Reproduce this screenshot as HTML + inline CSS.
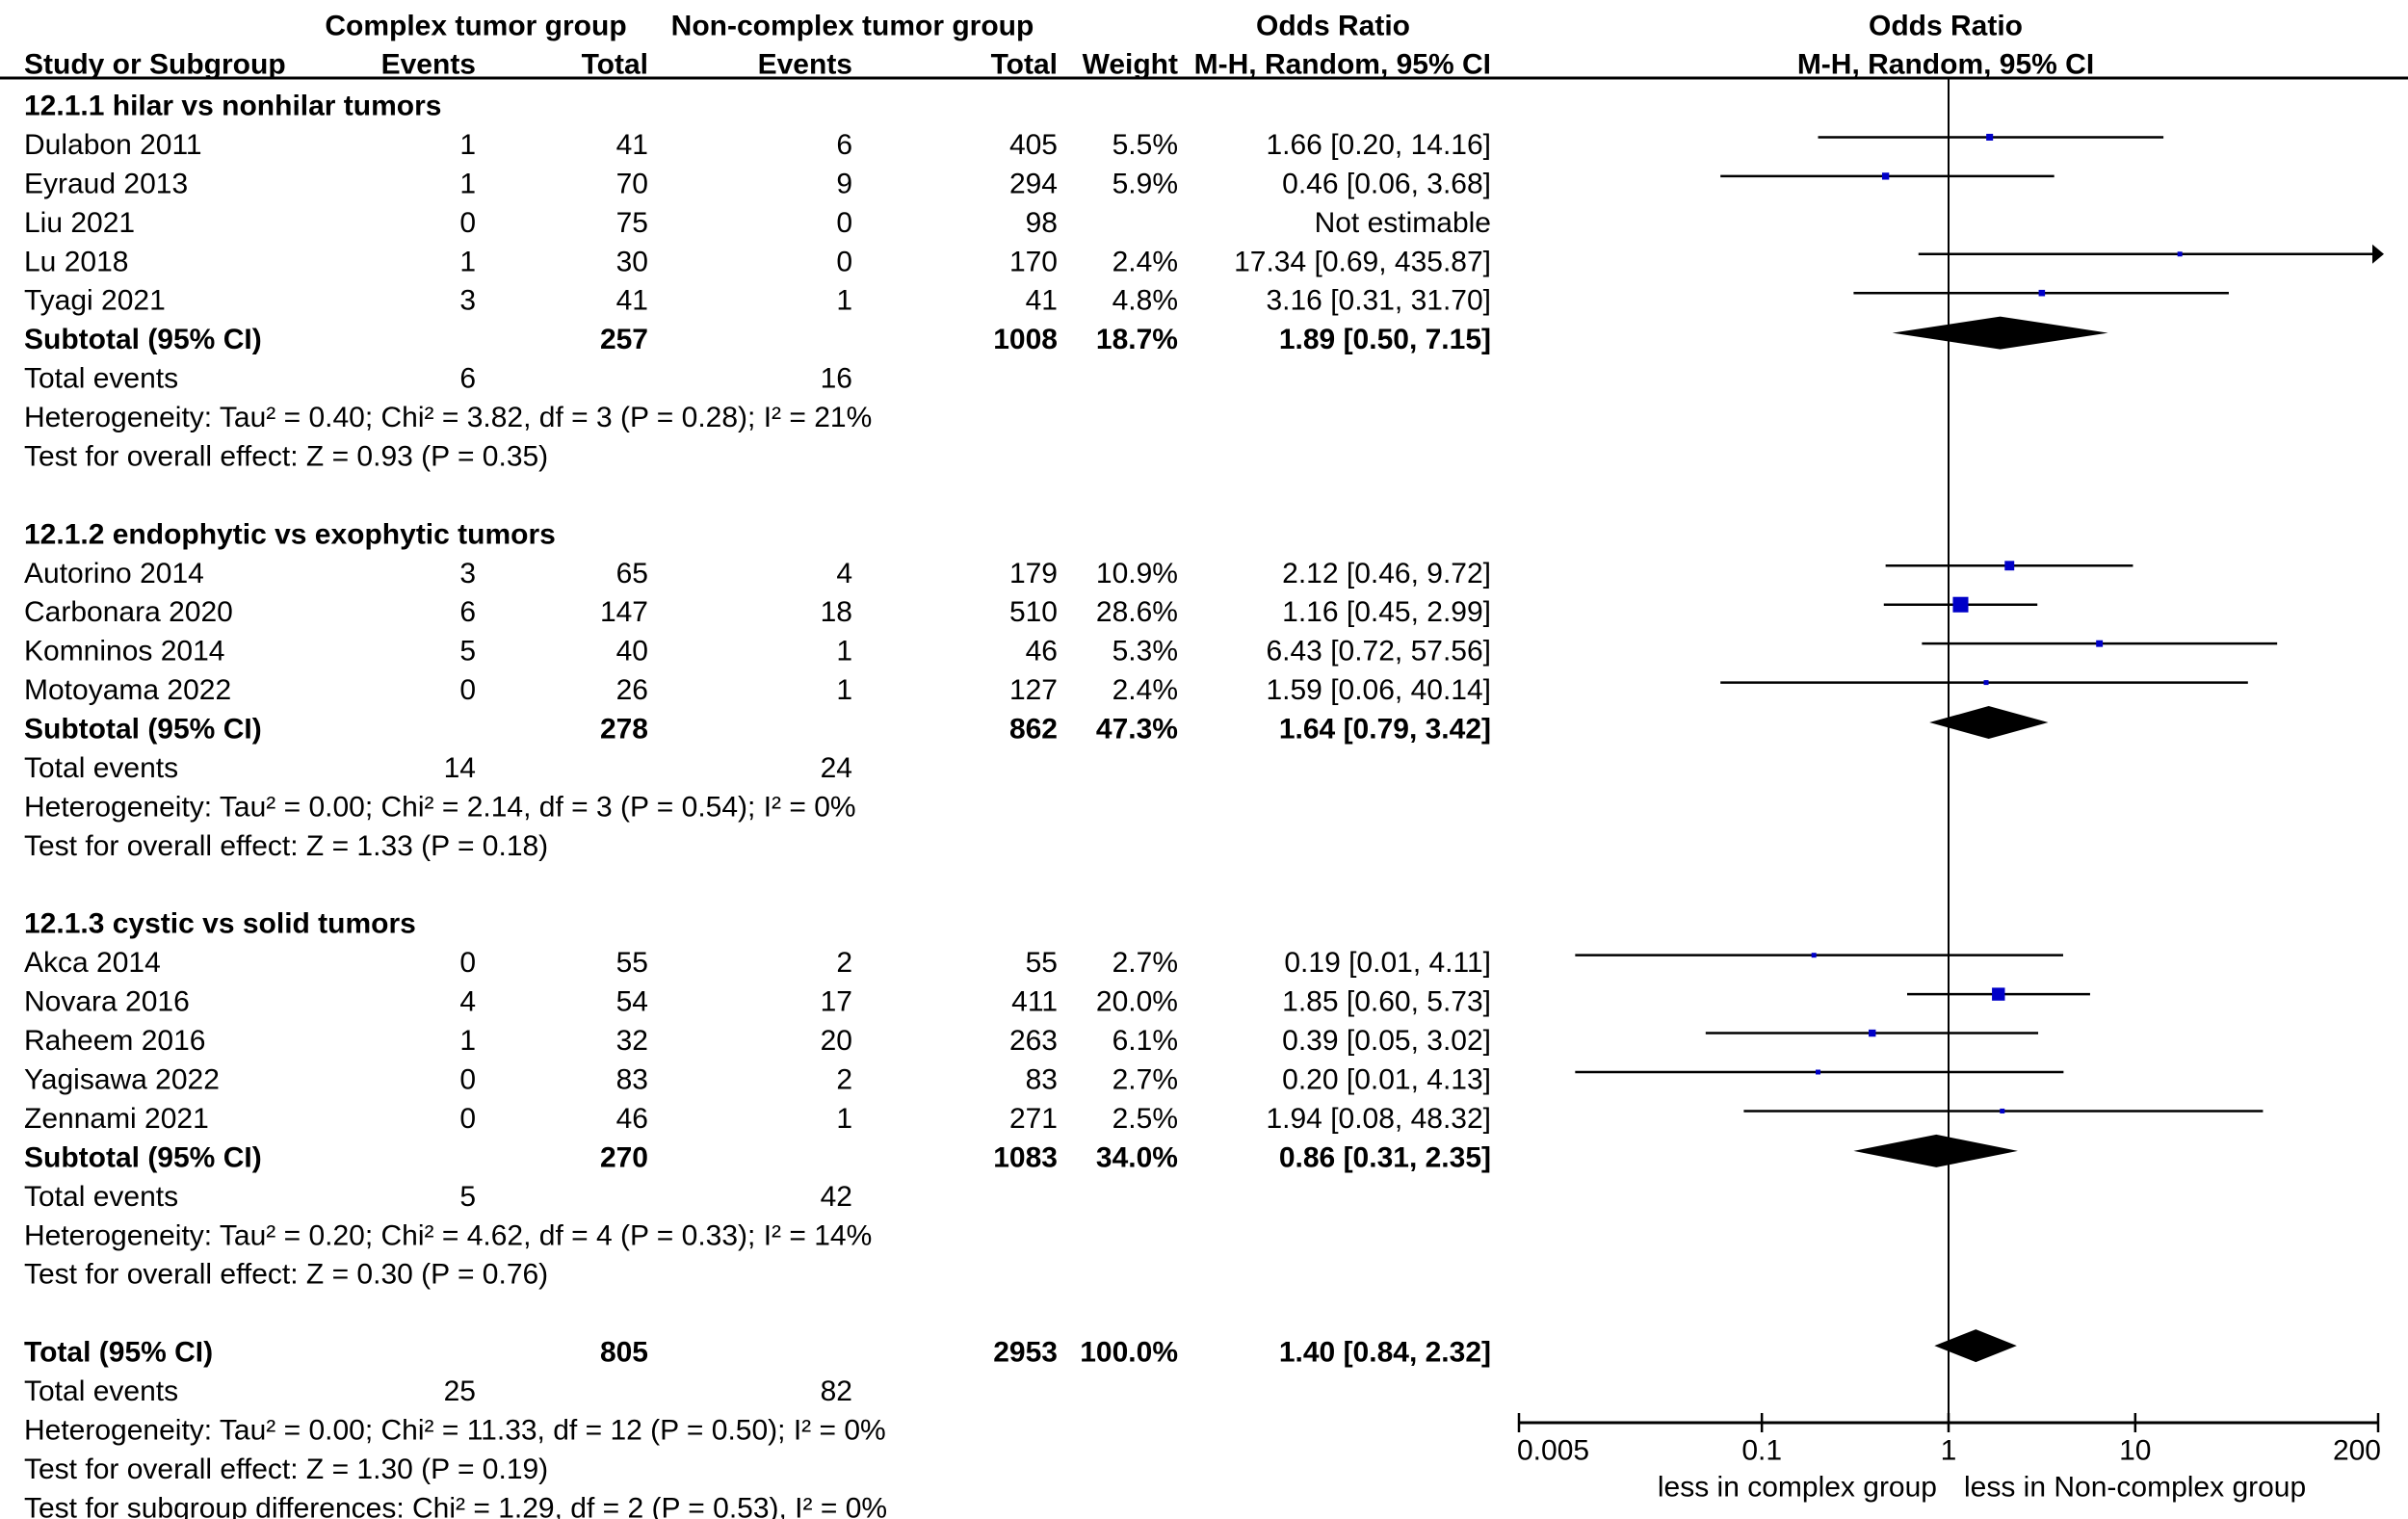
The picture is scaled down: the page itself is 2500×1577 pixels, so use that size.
<!DOCTYPE html>
<html><head><meta charset="utf-8"><style>
html,body{margin:0;padding:0;background:#fff;}
svg{display:block;}
text{font-family:"Liberation Sans",Arial,sans-serif;font-size:30px;fill:#000;}
.b{font-weight:bold;}
</style></head><body>
<svg id="chart" width="2500" height="1577" viewBox="0 0 2500 1577" xmlns="http://www.w3.org/2000/svg"></svg>
<script>
const studyNames=["Dulabon 2011","Eyraud 2013","Liu 2021","Lu 2018","Tyagi 2021","Autorino 2014","Carbonara 2020","Komninos 2014","Motoyama 2022","Akca 2014","Novara 2016","Raheem 2016","Yagisawa 2022","Zennami 2021"];
const studyGroup=[0,0,0,0,0,1,1,1,1,2,2,2,2,2];
const ev1=[1,1,0,1,3,3,6,5,0,0,4,1,0,0];
const tot1=[41,70,75,30,41,65,147,40,26,55,54,32,83,46];
const ev2=[6,9,0,0,1,4,18,1,1,2,17,20,2,1];
const tot2=[405,294,98,170,41,179,510,46,127,55,411,263,83,271];
const weights=[5.5,5.9,null,2.4,4.8,10.9,28.6,5.3,2.4,2.7,20.0,6.1,2.7,2.5];
const orVals=[1.66,0.46,null,17.34,3.16,2.12,1.16,6.43,1.59,0.19,1.85,0.39,0.20,1.94];
const loVals=[0.20,0.06,null,0.69,0.31,0.46,0.45,0.72,0.06,0.01,0.60,0.05,0.01,0.08];
const hiVals=[14.16,3.68,null,435.87,31.70,9.72,2.99,57.56,40.14,4.11,5.73,3.02,4.13,48.32];
const groupTitles=["12.1.1 hilar vs nonhilar tumors","12.1.2 endophytic vs exophytic tumors","12.1.3 cystic vs solid tumors"];
const groupTot1=[257,278,270];
const groupTot2=[1008,862,1083];
const groupWeight=["18.7%","47.3%","34.0%"];
const groupOR=[1.89,1.64,0.86];
const groupLo=[0.50,0.79,0.31];
const groupHi=[7.15,3.42,2.35];
const groupEv1=[6,14,5];
const groupEv2=[16,24,42];
const groupHet=["Heterogeneity: Tau² = 0.40; Chi² = 3.82, df = 3 (P = 0.28); I² = 21%","Heterogeneity: Tau² = 0.00; Chi² = 2.14, df = 3 (P = 0.54); I² = 0%","Heterogeneity: Tau² = 0.20; Chi² = 4.62, df = 4 (P = 0.33); I² = 14%"];
const groupTest=["Test for overall effect: Z = 0.93 (P = 0.35)","Test for overall effect: Z = 1.33 (P = 0.18)","Test for overall effect: Z = 0.30 (P = 0.76)"];
const totalOR=1.40, totalLo=0.84, totalHi=2.32;
const totalN1=805, totalN2=2953, totalEv1=25, totalEv2=82;
const totalHet="Heterogeneity: Tau² = 0.00; Chi² = 11.33, df = 12 (P = 0.50); I² = 0%";
const totalTest="Test for overall effect: Z = 1.30 (P = 0.19)";
const subgroupTest="Test for subgroup differences: Chi² = 1.29, df = 2 (P = 0.53), I² = 0%";
const tickVals=[0.005,0.1,1,10,200];
const tickLabels=["0.005","0.1","1","10","200"];
const xMin=0.005, xMax=200;

const svg=document.getElementById('chart');
const NS="http://www.w3.org/2000/svg";
const AX0=1577, AX1=2469, AXY=1477;
function xs(v){return AX0+(Math.log10(v)-Math.log10(xMin))/(Math.log10(xMax)-Math.log10(xMin))*(AX1-AX0);}
function rowY(i){return 110+i*40.44;}
function txt(x,y,s,anchor,bold,name){
  const t=document.createElementNS(NS,'text');
  t.setAttribute('x',x);t.setAttribute('y',y);
  t.setAttribute('dominant-baseline','central');
  t.setAttribute('text-anchor',anchor||'start');
  if(bold)t.setAttribute('class','b');
  t.textContent=s;
  
  
  svg.appendChild(t);return t;
}
function line(x1,y1,x2,y2,w,name){
  const l=document.createElementNS(NS,'line');
  l.setAttribute('x1',x1);l.setAttribute('y1',y1);l.setAttribute('x2',x2);l.setAttribute('y2',y2);
  l.setAttribute('stroke','#000');l.setAttribute('stroke-width',w);
  
  
  svg.appendChild(l);return l;
}
function fmt(v){return v.toFixed(2);}
function diamond(or,lo,hi,y,name){
  const p=document.createElementNS(NS,'polygon');
  p.setAttribute('points',`${xs(lo)},${y} ${xs(or)},${y-17} ${xs(hi)},${y} ${xs(or)},${y+17}`);
  p.setAttribute('fill','#000');
  
  
  svg.appendChild(p);
}
const C={study:25,ev1:494,tot1:673,ev2:885,tot2:1098,wt:1223,or:1548};
txt(494,27,"Complex tumor group","middle",true,"header-complex-group");
txt(885,27,"Non-complex tumor group","middle",true,"header-noncomplex-group");
txt(1384,27,"Odds Ratio","middle",true,"header-odds-ratio");
txt(2020,27,"Odds Ratio","middle",true,"header-plot-odds-ratio");
txt(C.study,67,"Study or Subgroup","start",true,"header-study");
txt(C.ev1,67,"Events","end",true,"header-events-1");
txt(C.tot1,67,"Total","end",true,"header-total-1");
txt(C.ev2,67,"Events","end",true,"header-events-2");
txt(C.tot2,67,"Total","end",true,"header-total-2");
txt(C.wt,67,"Weight","end",true,"header-weight");
txt(C.or,67,"M-H, Random, 95% CI","end",true,"header-method");
txt(2020,67,"M-H, Random, 95% CI","middle",true,"header-plot-method");
line(0,81,2500,81,3,"header-rule");
line(xs(1),82,xs(1),AXY,2,"null-effect-line");

let r=0;
for(let g=0;g<3;g++){
  txt(C.study,rowY(r),groupTitles[g],"start",true,"subgroup-title");r++;
  for(let i=0;i<studyNames.length;i++){
    if(studyGroup[i]!==g)continue;
    const y=rowY(r);
    txt(C.study,y,studyNames[i],"start",false,"study-name");
    txt(C.ev1,y,String(ev1[i]),"end",false,"events-complex");
    txt(C.tot1,y,String(tot1[i]),"end",false,"total-complex");
    txt(C.ev2,y,String(ev2[i]),"end",false,"events-noncomplex");
    txt(C.tot2,y,String(tot2[i]),"end",false,"total-noncomplex");
    if(orVals[i]===null){
      txt(C.or,y,"Not estimable","end",false,"odds-ratio-ci");
    } else {
      txt(C.wt,y,weights[i].toFixed(1)+"%","end",false,"weight");
      txt(C.or,y,`${fmt(orVals[i])} [${fmt(loVals[i])}, ${fmt(hiVals[i])}]`,"end",false,"odds-ratio-ci");
      const my=y-8;
      const hiClip=Math.min(hiVals[i],xMax), loClip=Math.max(loVals[i],xMin);
      line(xs(loClip),my,xs(hiClip),my,2.5,"ci-line");
      if(hiVals[i]>xMax){
        const a=document.createElementNS(NS,'polygon');
        a.setAttribute('points',`${AX1-6},${my-10} ${AX1+6},${my} ${AX1-6},${my+10}`);
        a.setAttribute('fill','#000');
        
        
        svg.appendChild(a);
      }
      const s=Math.max(5,Math.sqrt(weights[i])*3);
      const q=document.createElementNS(NS,'rect');
      q.setAttribute('x',xs(orVals[i])-s/2);q.setAttribute('y',my-s/2);
      q.setAttribute('width',s);q.setAttribute('height',s);q.setAttribute('fill','#0000c8');
      
      
      svg.appendChild(q);
    }
    r++;
  }
  let y=rowY(r);
  txt(C.study,y,"Subtotal (95% CI)","start",true,"subtotal-label");
  txt(C.tot1,y,String(groupTot1[g]),"end",true,"subtotal-total-1");
  txt(C.tot2,y,String(groupTot2[g]),"end",true,"subtotal-total-2");
  txt(C.wt,y,groupWeight[g],"end",true,"subtotal-weight");
  txt(C.or,y,`${fmt(groupOR[g])} [${fmt(groupLo[g])}, ${fmt(groupHi[g])}]`,"end",true,"subtotal-or");
  diamond(groupOR[g],groupLo[g],groupHi[g],y-7,"subtotal-diamond");
  r++;
  y=rowY(r);
  txt(C.study,y,"Total events","start",false,"total-events-label");
  txt(C.ev1,y,String(groupEv1[g]),"end",false,"total-events-1");
  txt(C.ev2,y,String(groupEv2[g]),"end",false,"total-events-2");
  r++;
  txt(C.study,rowY(r),groupHet[g],"start",false,"heterogeneity");r++;
  txt(C.study,rowY(r),groupTest[g],"start",false,"overall-effect-test");r++;
  r++;
}
let y=rowY(r);
txt(C.study,y,"Total (95% CI)","start",true,"total-label");
txt(C.tot1,y,String(totalN1),"end",true,"total-n-1");
txt(C.tot2,y,String(totalN2),"end",true,"total-n-2");
txt(C.wt,y,"100.0%","end",true,"total-weight");
txt(C.or,y,`${fmt(totalOR)} [${fmt(totalLo)}, ${fmt(totalHi)}]`,"end",true,"total-or");
diamond(totalOR,totalLo,totalHi,y-7,"total-diamond");
r++;y=rowY(r);
txt(C.study,y,"Total events","start",false,"total-events-label");
txt(C.ev1,y,String(totalEv1),"end",false,"total-events-1");
txt(C.ev2,y,String(totalEv2),"end",false,"total-events-2");
r++;txt(C.study,rowY(r),totalHet,"start",false,"total-heterogeneity");
r++;txt(C.study,rowY(r),totalTest,"start",false,"total-overall-effect");
r++;txt(C.study,rowY(r),subgroupTest,"start",false,"subgroup-differences-test");

line(AX0,AXY,AX1,AXY,3,"x-axis");
for(let i=0;i<tickVals.length;i++){
  const x=xs(tickVals[i]);
  line(x,AXY-10,x,AXY+10,2.5,"x-tick");
  const anc=i===0?"start":(i===tickVals.length-1?"end":"middle");
  txt(anc==="start"?x-2:(anc==="end"?x+3:x),1506,tickLabels[i],anc,false,"x-tick-label");
}
txt(xs(1)-12,1544,"less in complex group","end",false,"x-axis-left-label");
txt(xs(1)+16,1544,"less in Non-complex group","start",false,"x-axis-right-label");
</script>
</body></html>
